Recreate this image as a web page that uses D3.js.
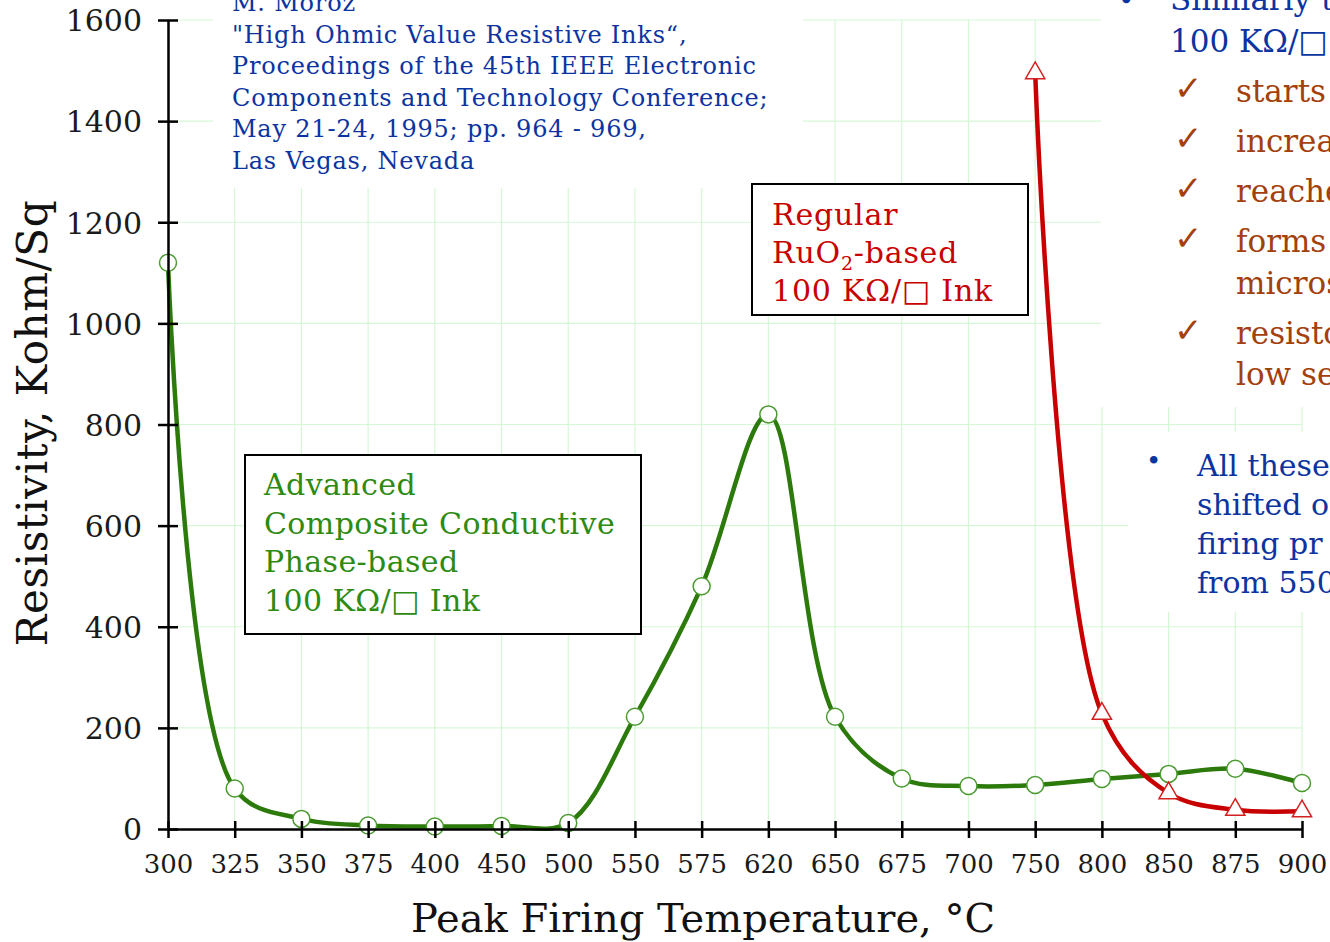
<!DOCTYPE html>
<html>
<head>
<meta charset="utf-8">
<script src="https://cdn.jsdelivr.net/npm/d3@7"></script>
<style>
  body { margin: 0; background: #fff; }
  svg { display: block; font-family: "DejaVu Serif", serif; }
</style>
</head>
<body>
<div id="chart"></div>
<script>
// categories on the x axis (uneven temperatures, evenly spaced like the original)
const temps = ['300', '325', '350', '375', '400', '450', '500', '550', '575', '620',
               '650', '675', '700', '750', '800', '850', '875', '900'];
const yTicks = [0, 200, 400, 600, 800, 1000, 1200, 1400, 1600];

// advanced composite ink, Kohm/Sq
const advancedValues = [1120, 80, 20, 7, 5, 6, 12, 222, 480, 820, 222, 100, 85, 87, 99, 109, 119, 91];

// regular RuO2 ink
const regularTemps = ['750', '800', '850', '875', '900'];
const regularValues = [1495, 228, 71, 38, 35];

const citation = ['M. Moroz', '"High Ohmic Value Resistive Inks“,',
  'Proceedings of the 45th IEEE Electronic', 'Components and Technology Conference;',
  'May 21-24, 1995; pp. 964 - 969,', 'Las Vegas, Nevada'];
const advancedLabel = ['Advanced', 'Composite Conductive', 'Phase-based', '100 KΩ/□ Ink'];
const checks = ['starts', 'increa', 'reache', 'forms', 'micros', 'resisto', 'low se'];
const checkRows = [102, 152, 202, 252, 294, 344, 385];
const bottomNote = ['All these', 'shifted o', 'firing pr', 'from 550'];

const W = 1330, H = 942;
const margin = { left: 168, top: 20, right: 28, bottom: 113 };
const green = '#2b7a0b', red = '#c80000', blue = '#0b34a0', brown = '#a3400c';

const svg = d3.select('#chart').append('svg')
  .attr('width', W).attr('height', H);

const x = d3.scalePoint().domain(temps).range([margin.left, W - margin.right]);
const y = d3.scaleLinear().domain([0, 1600]).range([H - margin.bottom, margin.top]);

// grid
const grid = svg.append('g').attr('stroke', '#d6f7d6').attr('stroke-width', 1.2);
grid.selectAll('.v').data(temps).enter().append('line')
  .attr('x1', d => x(d)).attr('x2', d => x(d))
  .attr('y1', y(1600)).attr('y2', y(0));
grid.selectAll('.h').data(yTicks).enter().append('line')
  .attr('x1', x('300')).attr('x2', x('900'))
  .attr('y1', d => y(d)).attr('y2', d => y(d));

// white panels of the slide covering the grid
svg.append('rect').attr('x', 213).attr('y', 0).attr('width', 590).attr('height', 188).attr('fill', '#fff');
svg.append('rect').attr('x', 1101).attr('y', 0).attr('width', 229).attr('height', 407).attr('fill', '#fff');
svg.append('rect').attr('x', 1128).attr('y', 432).attr('width', 202).attr('height', 180).attr('fill', '#fff');

// curves
const line = d3.line().curve(d3.curveCatmullRom.alpha(0.5));
svg.append('path')
  .attr('d', line(advancedValues.map((v, i) => [x(temps[i]), y(v)])))
  .attr('fill', 'none').attr('stroke', green).attr('stroke-width', 4.5);
svg.append('path')
  .attr('d', line(regularValues.map((v, i) => [x(regularTemps[i]), y(v)])))
  .attr('fill', 'none').attr('stroke', red).attr('stroke-width', 4.5);

svg.selectAll('.dot').data(advancedValues).enter().append('circle')
  .attr('cx', (d, i) => x(temps[i])).attr('cy', d => y(d)).attr('r', 8.5)
  .attr('fill', '#fff').attr('stroke', '#4a9a30').attr('stroke-width', 1.5);
svg.selectAll('.tri').data(regularValues).enter().append('path')
  .attr('d', d3.symbol().type(d3.symbolTriangle).size(160))
  .attr('transform', (d, i) => `translate(${x(regularTemps[i])},${y(d)})`)
  .attr('fill', '#fff').attr('stroke', '#d42020').attr('stroke-width', 1.5);

// axes
const yAxis = svg.append('g').attr('transform', `translate(${margin.left},0)`)
  .call(d3.axisLeft(y).tickValues(yTicks).tickFormat(d3.format('d')).tickSize(0).tickPadding(26));
const xAxis = svg.append('g').attr('transform', `translate(0,${y(0)})`)
  .call(d3.axisBottom(x).tickSize(0).tickPadding(0));
[yAxis, xAxis].forEach(a => {
  a.select('.domain').attr('stroke', '#000').attr('stroke-width', 2.5);
  a.selectAll('.tick line').attr('stroke', '#000').attr('stroke-width', 2.5);
  a.selectAll('.tick text').attr('fill', '#1a1a1a').style('font-family', '"DejaVu Serif", serif');
});
yAxis.selectAll('.tick line').attr('x1', -10).attr('x2', 10);
yAxis.selectAll('.tick text').style('font-size', '30px').attr('dy', '0.36em');
xAxis.selectAll('.tick line').attr('y1', -8).attr('y2', 9);
xAxis.selectAll('.tick text').style('font-size', '26px').attr('y', 44).attr('dy', 0);

// axis titles
svg.append('text').attr('x', 703).attr('y', 932).attr('text-anchor', 'middle')
  .attr('font-size', 40).attr('fill', '#111').text('Peak Firing Temperature, °C');
svg.append('text').attr('transform', 'translate(47,423) rotate(-90)').attr('text-anchor', 'middle')
  .attr('font-size', 42).attr('letter-spacing', 0.6).attr('fill', '#111').text('Resistivity, Kohm/Sq');

// citation
svg.append('g').selectAll('text').data(citation).enter().append('text')
  .attr('x', 232).attr('y', (d, i) => 11 + i * 31.6)
  .attr('font-size', 24).attr('letter-spacing', 0.8).attr('fill', blue).text(d => d);

// label boxes
svg.append('rect').attr('x', 245).attr('y', 455).attr('width', 396).attr('height', 179)
  .attr('fill', '#fff').attr('stroke', '#000').attr('stroke-width', 2);
svg.append('g').selectAll('text').data(advancedLabel).enter().append('text')
  .attr('x', 264).attr('y', (d, i) => 495 + i * 38.5)
  .attr('font-size', 30).attr('letter-spacing', 0.4).attr('fill', '#2d8a12').text(d => d);

svg.append('rect').attr('x', 752).attr('y', 184).attr('width', 276).attr('height', 131)
  .attr('fill', '#fff').attr('stroke', '#000').attr('stroke-width', 2);
const reg = svg.append('g').attr('font-size', 30).attr('letter-spacing', 0.8).attr('fill', red);
reg.append('text').attr('x', 772).attr('y', 225).text('Regular');
const ru = reg.append('text').attr('x', 772).attr('y', 263);
ru.append('tspan').text('RuO');
ru.append('tspan').attr('font-size', 19).attr('dy', 7).text('2');
ru.append('tspan').attr('dy', -7).text('-based');
reg.append('text').attr('x', 772).attr('y', 301).text('100 KΩ/□ Ink');

// slide text on the right, cut by the frame
svg.append('text').attr('x', 1118).attr('y', 10).attr('font-size', 28).attr('fill', blue).text('•');
svg.append('text').attr('x', 1170).attr('y', 10).attr('font-size', 31).attr('fill', blue).text('Similarly t');
svg.append('text').attr('x', 1170).attr('y', 52).attr('font-size', 31).attr('fill', blue).text('100 KΩ/□');
svg.append('g').selectAll('text').data(checks).enter().append('text')
  .attr('x', 1174).attr('y', (d, i) => checkRows[i] - 2).attr('font-size', 34).attr('font-weight', 'bold')
  .attr('fill', brown).style('font-family', '"DejaVu Sans", sans-serif')
  .text((d, i) => (i === 4 || i === 6) ? '' : '✓');
svg.append('g').selectAll('text').data(checks).enter().append('text')
  .attr('x', 1236).attr('y', (d, i) => checkRows[i]).attr('font-size', 31).attr('fill', brown)
  .text(d => d);
svg.append('text').attr('x', 1146).attr('y', 470).attr('font-size', 26).attr('fill', blue).text('•');
svg.append('g').selectAll('text').data(bottomNote).enter().append('text')
  .attr('x', 1197).attr('y', (d, i) => 476 + i * 39).attr('font-size', 30).attr('fill', blue)
  .text(d => d);
</script>
</body>
</html>
